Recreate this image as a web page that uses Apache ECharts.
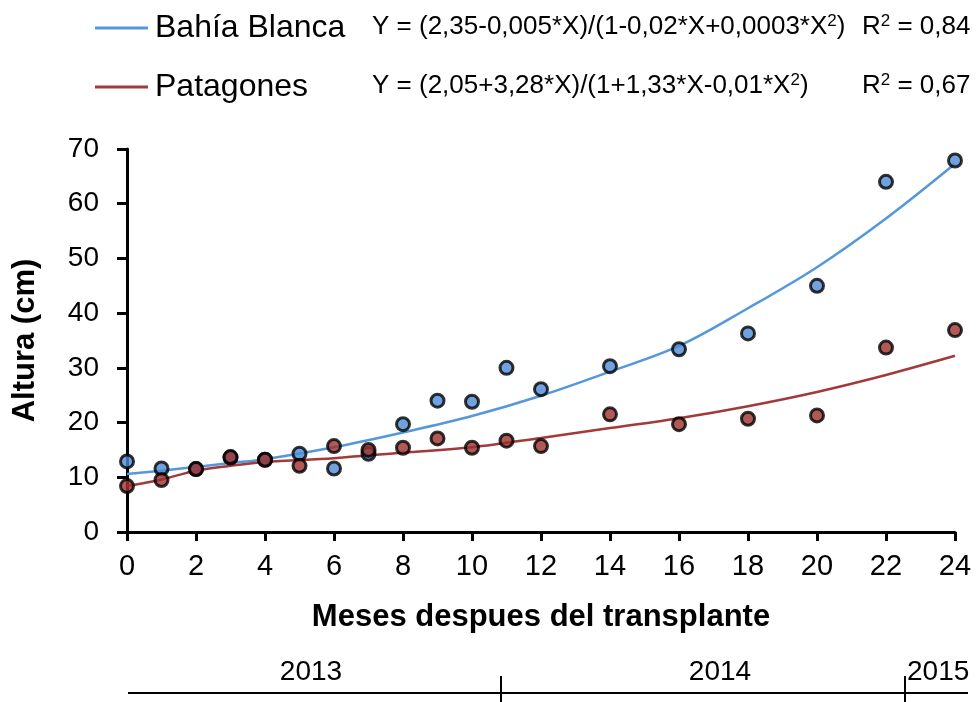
<!DOCTYPE html>
<html>
<head>
<meta charset="utf-8">
<title>Altura según meses después del transplante</title>
<script src="https://cdn.jsdelivr.net/npm/echarts@6/dist/echarts.min.js"></script>
<style>
  html, body { margin: 0; padding: 0; background: #ffffff; }
  #chart { width: 978px; height: 702px; }
</style>
</head>
<body>
<div id="chart"></div>
<script>
// Measured heights (cm) by month after transplanting
const months = [0, 1, 2, 3, 4, 5, 6, 7, 8, 9, 10, 11, 12, 14, 16, 18, 20, 22, 24];
const bahiaBlanca = [12.9, 11.6, 11.5, 13.6, 13.2, 14.3, 11.6, 14.3, 19.7, 24.0, 23.8, 30.0, 26.1, 30.3, 33.4, 36.3, 45.0, 64.0, 67.9];
const patagones = [8.4, 9.5, 11.5, 13.7, 13.2, 12.1, 15.7, 15.0, 15.4, 17.1, 15.4, 16.7, 15.7, 21.5, 19.7, 20.7, 21.3, 33.7, 36.9];

// Fitted trend curves
const fitMonths = [0, 1, 2, 3, 4, 6, 8, 10, 12, 14, 16, 18, 20, 22, 24];
const fitBahiaBlanca = [10.6, 11.2, 11.9, 12.6, 13.3, 15.5, 18.2, 21.2, 24.9, 29.3, 34.0, 40.9, 48.4, 57.3, 67.3];
const fitPatagones = [8.4, 9.6, 11.2, 12.1, 12.8, 13.5, 14.5, 15.5, 17.2, 19.0, 20.8, 23.0, 25.6, 28.7, 32.2];

const seriesNames = ['Bahía Blanca', 'Patagones'];
const equations = [
  'Y = (2,35-0,005*X)/(1-0,02*X+0,0003*X{sup|2})',
  'Y = (2,05+3,28*X)/(1+1,33*X-0,01*X{sup|2})'
];
const rSquared = ['R{sup|2} = 0,84', 'R{sup|2} = 0,67'];
const years = ['2013', '2014', '2015'];

const FONT = "'Liberation Sans', Arial, sans-serif";
const BLUE_LINE = '#5597DB';
const BLUE_DOT = '#4E8BD6';
const RED_LINE = '#A13A38';
const RED_DOT = '#9C2F2D';

const chart = echarts.init(document.getElementById('chart'), null, { renderer: 'canvas' });

const pair = (xs, ys) => xs.map((x, i) => [x, ys[i]]);

const richSup = { sup: { fontSize: 17, verticalAlign: 'top', padding: [0, 0, 11, 0], fontFamily: FONT, fill: '#000' } };

function eqText(x, y, text) {
  return {
    type: 'text', left: x, top: y,
    style: { text: text, font: '26px ' + FONT, fill: '#000', rich: richSup }
  };
}

function yearText(x, text, align) {
  return {
    type: 'text', x: x, y: 672,
    style: { text: text, font: '28px ' + FONT, fill: '#000', textAlign: align, textVerticalAlign: 'middle' }
  };
}

const option = {
  animation: false,
  backgroundColor: '#ffffff',
  textStyle: { fontFamily: FONT },
  grid: { left: 127, right: 23, top: 149, bottom: 170, containLabel: false },
  legend: {
    data: seriesNames,
    orient: 'vertical',
    left: 95, top: 12,
    padding: 0,
    itemGap: 27,
    itemWidth: 53,
    itemHeight: 3,
    icon: 'rect',
    textStyle: { fontSize: 32, fontFamily: FONT, color: '#000', lineHeight: 32, padding: [0, 0, 0, 2] }
  },
  xAxis: {
    type: 'value', min: 0, max: 24, interval: 2,
    name: 'Meses despues del transplante',
    nameLocation: 'middle', nameGap: 70,
    nameTextStyle: { fontSize: 31, fontWeight: 'bold', color: '#000', fontFamily: FONT },
    axisLine: { lineStyle: { color: '#000', width: 3 } },
    axisTick: { show: true, length: 9, lineStyle: { color: '#000', width: 3 } },
    axisLabel: { fontSize: 29, color: '#000', margin: 20, fontFamily: FONT },
    splitLine: { show: false }
  },
  yAxis: {
    type: 'value', min: 0, max: 70, interval: 10,
    name: 'Altura (cm)',
    nameLocation: 'middle', nameGap: 86, nameRotate: 90,
    nameTextStyle: { fontSize: 31, fontWeight: 'bold', color: '#000', fontFamily: FONT },
    axisLine: { show: true, lineStyle: { color: '#000', width: 3 } },
    axisTick: { show: true, length: 10, lineStyle: { color: '#000', width: 3 } },
    axisLabel: { fontSize: 28, color: '#000', margin: 28, fontFamily: FONT },
    splitLine: { show: false }
  },
  series: [
    {
      name: seriesNames[0], type: 'line', data: pair(fitMonths, fitBahiaBlanca),
      smooth: 0.35, showSymbol: false, z: 2,
      color: BLUE_LINE, lineStyle: { color: BLUE_LINE, width: 2.5 }
    },
    {
      name: seriesNames[1], type: 'line', data: pair(fitMonths, fitPatagones),
      smooth: 0.35, showSymbol: false, z: 2,
      color: RED_LINE, lineStyle: { color: RED_LINE, width: 2.5 }
    },
    {
      name: seriesNames[0] + ' (medición)', type: 'scatter', data: pair(months, bahiaBlanca),
      symbolSize: 13, z: 3,
      itemStyle: { color: BLUE_DOT, borderColor: '#000', borderWidth: 3 }
    },
    {
      name: seriesNames[1] + ' (medición)', type: 'scatter', data: pair(months, patagones),
      symbolSize: 13, z: 4,
      itemStyle: { color: RED_DOT, borderColor: '#000', borderWidth: 3 }
    }
  ],
  graphic: [
    eqText(372, 13, equations[0]),
    eqText(862, 13, rSquared[0]),
    eqText(372, 72, equations[1]),
    eqText(862, 72, rSquared[1]),
    // calendar-year band under the month axis
    { type: 'line', shape: { x1: 128, y1: 693, x2: 968, y2: 693 }, style: { stroke: '#000', lineWidth: 2 } },
    { type: 'line', shape: { x1: 501, y1: 676, x2: 501, y2: 702 }, style: { stroke: '#000', lineWidth: 2 } },
    { type: 'line', shape: { x1: 905, y1: 676, x2: 905, y2: 702 }, style: { stroke: '#000', lineWidth: 2 } },
    yearText(311, years[0], 'center'),
    yearText(720, years[1], 'center'),
    yearText(907, years[2], 'left')
  ]
};

chart.setOption(option);
</script>
</body>
</html>
